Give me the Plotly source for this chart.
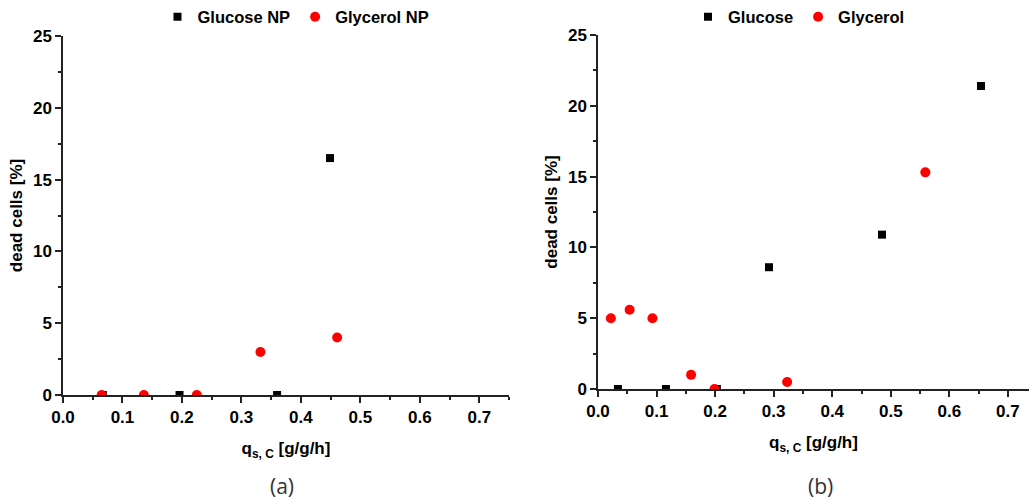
import plotly.graph_objects as go

# Panel (a)
glc_np_x = [0.067, 0.196, 0.360, 0.449]
glc_np_y = [0, 0, 0, 16.5]
gly_np_x = [0.065, 0.136, 0.225, 0.332, 0.461]
gly_np_y = [0, 0, 0, 3.0, 4.0]

# Panel (b)
glc_x = [0.034, 0.116, 0.203, 0.292, 0.485, 0.654]
glc_y = [0, 0, 0, 8.6, 10.9, 21.4]
gly_x = [0.022, 0.054, 0.093, 0.159, 0.199, 0.323, 0.559]
gly_y = [5.0, 5.6, 5.0, 1.0, 0, 0.5, 15.3]

W, H = 1029, 504
FONT = "Liberation Sans, Arial, sans-serif"
AX = "#222222"

fig = go.Figure()
sq = dict(symbol="square", size=8, color="black")
ci = dict(symbol="circle", size=10, color="#ff0000")
fig.add_trace(go.Scatter(x=glc_np_x, y=glc_np_y, mode="markers", marker=sq, name="Glucose NP",
                         xaxis="x", yaxis="y", legend="legend"))
fig.add_trace(go.Scatter(x=gly_np_x, y=gly_np_y, mode="markers", marker=ci, name="Glycerol NP",
                         xaxis="x", yaxis="y", legend="legend"))
fig.add_trace(go.Scatter(x=glc_x, y=glc_y, mode="markers", marker=sq, name="Glucose",
                         xaxis="x2", yaxis="y2", legend="legend2"))
fig.add_trace(go.Scatter(x=gly_x, y=gly_y, mode="markers", marker=ci, name="Glycerol",
                         xaxis="x2", yaxis="y2", legend="legend2"))

tickfont = dict(family=FONT, size=17, color="black", weight="bold")
titlefont = dict(family=FONT, size=17, color="black", weight="bold")


def xax(domain, rng, anchor, title):
    return dict(domain=domain, range=rng, anchor=anchor, dtick=0.1, tick0=0, tickformat=".1f",
                ticks="outside", ticklen=6, tickwidth=1.5, tickcolor=AX, automargin=False,
                minor=dict(dtick=0.05, tick0=0, ticks="outside", ticklen=3, tickwidth=1.5, tickcolor=AX),
                showline=True, linewidth=1.5, linecolor=AX, showgrid=False, zeroline=False,
                tickfont=tickfont, title=dict(text=title, font=titlefont, standoff=16))


def yax(domain, anchor, title):
    return dict(domain=domain, range=[0, 25], anchor=anchor, dtick=5, tick0=0,
                ticks="outside", ticklen=6, tickwidth=1.5, tickcolor=AX, automargin=False,
                minor=dict(dtick=2.5, tick0=0, ticks="outside", ticklen=3, tickwidth=1.5, tickcolor=AX),
                showline=True, linewidth=1.5, linecolor=AX, showgrid=False, zeroline=False,
                tickfont=tickfont, title=dict(text=title, font=titlefont, standoff=6))


def xtop(overlay, rng, anchor):
    return dict(overlaying=overlay, range=rng, anchor=anchor, side="top", dtick=0.1, tick0=0,
                ticks="inside", ticklen=6, tickwidth=1.5, tickcolor=AX, showticklabels=False,
                automargin=False,
                minor=dict(dtick=0.05, tick0=0, ticks="inside", ticklen=3, tickwidth=1.5, tickcolor=AX),
                showline=True, linewidth=1.5, linecolor=AX, showgrid=False, zeroline=False)


def yright(overlay, anchor):
    return dict(overlaying=overlay, range=[0, 25], anchor=anchor, side="right", dtick=5, tick0=0,
                ticks="inside", ticklen=6, tickwidth=1.5, tickcolor=AX, showticklabels=False,
                automargin=False,
                minor=dict(dtick=2.5, tick0=0, ticks="inside", ticklen=3, tickwidth=1.5, tickcolor=AX),
                showline=True, linewidth=1.5, linecolor=AX, showgrid=False, zeroline=False)


xt = "q<sub>s, C</sub> [g/g/h]"
yt = "dead cells [%]"
dA_x = [63 / W, 509 / W]
dA_y = [1 - 395 / H, 1 - 36 / H]
dB_x = [598 / W, 1.0]
dB_y = [1 - 389 / H, 1 - 35 / H]

legfont = dict(family=FONT, size=16.5, color="black", weight="bold")
capfont = dict(family="Open Sans, sans-serif", size=21, color="#333333")

fig.update_layout(
    width=W, height=H, margin=dict(l=0, r=0, t=0, b=0, autoexpand=False),
    paper_bgcolor="white", plot_bgcolor="white",
    xaxis=xax(dA_x, [0, 0.75], "y", xt),
    yaxis=yax(dA_y, "x", yt),
    xaxis3=xtop("x", [0, 0.75], "y"),
    yaxis3=yright("y", "x"),
    xaxis2=xax(dB_x, [0, 0.736], "y2", xt),
    yaxis2=yax(dB_y, "x2", yt),
    xaxis4=xtop("x2", [0, 0.736], "y2"),
    legend=dict(orientation="h", x=296 / W, xanchor="center", y=1 - 17 / H, yanchor="middle",
                font=legfont, bgcolor="rgba(0,0,0,0)"),
    legend2=dict(orientation="h", x=799 / W, xanchor="center", y=1 - 17 / H, yanchor="middle",
                 font=legfont, bgcolor="rgba(0,0,0,0)"),
    showlegend=True,
    annotations=[
        dict(text="(a)", x=282 / W, y=1 - 486 / H, xref="paper", yref="paper", showarrow=False,
             xanchor="center", yanchor="middle", font=capfont),
        dict(text="(b)", x=820 / W, y=1 - 486 / H, xref="paper", yref="paper", showarrow=False,
             xanchor="center", yanchor="middle", font=capfont),
    ],
)

fig.write_html("out.html", config=dict(displayModeBar=False),
               post_script="document.body.style.margin='0';document.body.style.overflow='hidden';")
